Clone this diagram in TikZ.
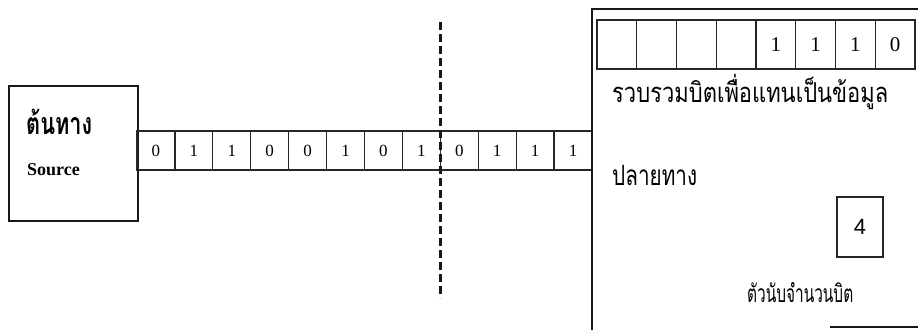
\documentclass[tikz,border=0pt]{standalone}
\usepackage{fontspec}
\setmainfont{Liberation Serif}
\newfontfamily\thaifont[Script=Thai]{Loma}
\newfontfamily\sansfont{Liberation Sans}
\begin{document}
\begin{tikzpicture}[x=1pt,y=-1pt,
  frame/.style={draw=black!90,line width=1.8pt},
  bitcell/.style={draw=black!85,line width=1.3pt,minimum width=37.92pt,minimum height=39pt,
    inner sep=0pt,outer sep=0pt,anchor=north west,font=\fontsize{17}{17}\selectfont},
  regcell/.style={draw=black!85,line width=1.3pt,minimum width=39.75pt,minimum height=49pt,
    inner sep=0pt,outer sep=0pt,anchor=north west,font=\fontsize{21}{21}\selectfont},
  thailabel/.style={inner sep=0pt,font=\thaifont},
  dashline/.style={draw=black!90,line width=3pt,dash pattern=on 8pt off 4pt}]
\useasboundingbox (0,0) rectangle (918,330);
% source box
\node[frame,minimum width=129pt,minimum height=135pt,anchor=north west,inner sep=0pt] (src) at (8,85) {};
\node[thailabel,anchor=west,font=\thaifont\bfseries] (srcth) at (26,122) {\scalebox{1}[1.4]{\resizebox{66pt}{!}{ต้นทาง}}};
\node[anchor=west,inner sep=0pt,font=\bfseries\fontsize{18}{18}\selectfont] (srcen) at (27,170) {Source};
% bit strip
\foreach \b [count=\i] in {0,1,1,0,0,1,0,1,0,1,1,1}{
  \node[bitcell] (b\i) at ({137+(\i-1)*37.92},131) {\b};
}
% destination frame
\coordinate (ftr) at (918,9);
\coordinate (ftl) at (592,9);
\coordinate (fbl) at (592,330);
\draw[frame] (ftr) -- (ftl) -- (fbl);
% register
\foreach \b [count=\i] in {{},{},{},{},1,1,1,0}{
  \node[regcell] (r\i) at ({597+(\i-1)*39.75},20) {\b};
}
\node[thailabel,anchor=west] (regtxt) at (612,92) {\scalebox{1}[1.25]{\resizebox{276pt}{!}{รวบรวมบิตเพื่อแทนเป็นข้อมูล}}};
\node[thailabel,anchor=west] (dst) at (612,175) {\scalebox{1}[1.35]{\resizebox{85pt}{!}{ปลายทาง}}};
% counter
\node[draw=black!85,line width=1.3pt,minimum width=46pt,minimum height=60pt,inner sep=0pt,
  font=\sansfont\fontsize{22}{22}\selectfont] (cnt) at (860,227) {4};
\node[thailabel,anchor=west] (cnttxt) at (747,293) {\scalebox{1}[1.6]{\resizebox{106pt}{!}{ตัวนับจำนวนบิต}}};
% dashed divider
\coordinate (dtop) at (440,22);
\coordinate (dbot) at (440,298);
\draw[dashline] (dtop) -- (dbot);
% partial line at bottom right
\coordinate (bl1) at (830,327);
\coordinate (bl2) at (918,327);
\draw[frame] (bl1) -- (bl2);
\end{tikzpicture}
\end{document}
